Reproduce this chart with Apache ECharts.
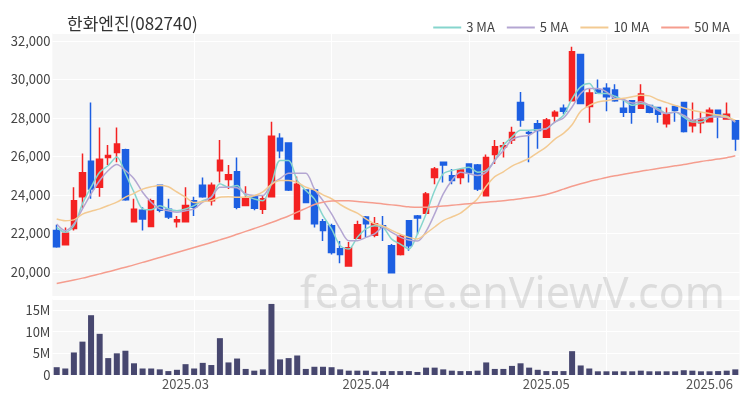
<!DOCTYPE html>
<html><head><meta charset="utf-8">
<script src="https://cdn.jsdelivr.net/npm/echarts/dist/echarts.min.js"></script>
<style>html,body{margin:0;padding:0;background:#fff}#c{width:750px;height:400px}</style>
</head><body><div id="c"></div>
<script>
const dates = ['2025.02.10','2025.02.11','2025.02.12','2025.02.13','2025.02.14','2025.02.17','2025.02.18','2025.02.19','2025.02.20','2025.02.21','2025.02.24','2025.02.25','2025.02.26','2025.02.27','2025.02.28',
'2025.03.04','2025.03.05','2025.03.06','2025.03.07','2025.03.10','2025.03.11','2025.03.12','2025.03.13','2025.03.14','2025.03.17','2025.03.18','2025.03.19','2025.03.20','2025.03.21','2025.03.24','2025.03.25','2025.03.26','2025.03.27','2025.03.28','2025.03.31',
'2025.04.01','2025.04.02','2025.04.03','2025.04.04','2025.04.07','2025.04.08','2025.04.09','2025.04.10','2025.04.11','2025.04.14','2025.04.15','2025.04.16','2025.04.17','2025.04.18','2025.04.21','2025.04.22','2025.04.23','2025.04.24','2025.04.25','2025.04.28','2025.04.29','2025.04.30',
'2025.05.02','2025.05.07','2025.05.08','2025.05.09','2025.05.12','2025.05.13','2025.05.14','2025.05.15','2025.05.16','2025.05.19','2025.05.20','2025.05.21','2025.05.22','2025.05.23','2025.05.26','2025.05.27','2025.05.28','2025.05.29','2025.05.30',
'2025.06.02','2025.06.04','2025.06.05','2025.06.09'];

const openP = [22150,21400,22250,23900,25750,24400,25950,26200,26350,22600,23200,22350,24500,23250,22600,22600,23700,24500,23700,25250,24800,25200,23450,23900,23250,23900,26950,26700,22750,24250,24250,22600,22400,21200,20300,21750,22850,21900,22400,21350,20900,22650,22900,23050,24900,25700,25000,24900,25600,25550,23950,26100,26500,26850,28800,27250,27700,27000,28100,28500,28900,31300,28600,29450,29550,29450,28500,28900,28500,28650,28550,27700,28600,28800,27600,27750,27800,28400,27950,27850];
const closeP = [21300,22000,23700,25150,24300,25850,26050,26650,23750,23250,22750,23700,23200,22850,22700,23450,23350,23900,24500,25800,25050,23350,23800,23300,23800,27050,26300,24250,24550,23600,22500,22150,21000,20900,21250,22450,22500,22500,22300,19950,21850,21350,22800,24050,25350,25550,24750,25300,25150,24300,25950,26500,26550,27250,27900,27200,27350,27900,28300,28350,31450,28750,29300,29300,29100,28900,28300,28300,29250,28300,28200,28200,28400,27300,27850,27900,28400,28100,28200,26900];
const lowP = [21250,21400,22150,23300,23800,23900,25550,25700,23700,22600,22150,22350,23100,22750,22300,22600,22900,23850,23450,24650,24300,23250,23450,23200,23000,23900,25900,24200,22750,23600,22300,21600,20900,20450,20300,21750,21800,21800,21600,19950,20850,21100,21950,23000,24550,24650,24550,24550,24650,24200,23950,25600,25950,26650,27550,25700,26400,27000,27750,28200,28900,28750,27750,29250,28350,28850,28050,27700,28500,28250,27750,27500,27800,27250,27250,27200,27800,26950,27950,26300];
const highP = [22450,22300,24400,26150,28800,27500,26600,27500,26400,23800,23350,23800,24500,23800,22900,24400,23900,24900,24650,26850,25550,25950,24450,23950,23950,27800,27200,26700,24950,24250,24250,22750,22500,21600,21550,22650,22900,22850,22900,21450,21950,22650,22950,24150,25450,25700,25350,25400,25600,25600,26100,26850,26750,27550,29350,27350,27900,28000,28400,28700,31700,31300,29550,30000,29800,29750,28900,28900,29750,28650,28550,28550,28600,28800,28800,28300,28550,28400,28800,27900];

const volume = [1.8,1.5,5.2,7.7,13.8,9.5,3.9,5.0,5.6,2.7,1.5,1.5,1.3,0.9,1.2,2.5,1.5,2.8,2.3,8.5,2.9,3.8,1.4,1.0,1.3,16.4,3.6,3.9,4.5,1.4,1.9,1.9,1.8,1.3,1.0,1.0,1.0,0.8,0.9,0.9,0.9,0.9,0.7,1.7,1.7,1.3,1.0,0.9,0.9,1.0,2.9,1.4,1.4,2.1,2.7,1.7,1.2,0.9,0.9,0.9,5.5,2.2,1.5,0.85,0.85,0.85,0.85,0.85,1.0,0.85,0.85,0.85,0.85,1.1,1.0,0.85,0.85,0.9,1.0,1.3].map(v => v * 1e6);

const ma3 = [22310,22050,22400,23530,24400,25180,25530,25970,25100,24140,23270,23220,23440,23270,23180,23270,23440,23700,23880,24580,24400,24490,23970,23790,23700,24570,25790,25790,24750,24230,23790,22920,22230,21360,21180,21790,22230,22400,22310,21700,21440,21180,21970,23010,24230,25100,25270,25360,25440,25180,25270,25790,26570,27010,27360,27360,27390,27440,27790,28140,29010,29620,29790,29270,29270,29130,28920,28660,28750,28660,28490,28230,28310,28050,27790,27790,28050,28140,28090,27790];
const ma5 = [22490,22140,22490,23270,24050,24750,25270,25580,25270,24840,24140,23620,23270,23180,23100,23180,23270,23620,23880,24400,24400,24370,24050,23970,23970,24570,24840,25130,25130,25130,24310,23700,23010,22230,21620,21620,21790,21970,22310,22050,21800,21650,21600,22100,23010,24050,24750,25180,25100,25010,25180,25790,26310,26870,27040,27100,27360,27440,27790,28000,28570,29270,29530,29530,29360,29010,28960,28780,28840,28660,28400,28230,28310,28140,27880,27970,28050,28050,28020,27790];
const ma10 = [22750,22660,22700,23000,23150,23270,23450,23620,23880,24080,24300,24420,24490,24420,24150,23880,23600,23650,23700,23880,23900,23880,23880,23950,24150,24550,24750,24750,24650,24400,24250,24000,23800,23500,23250,23050,22750,22500,22380,22150,21950,21790,21710,22000,22330,22660,22850,23050,23400,23800,24450,24950,25200,25500,25700,25900,26200,26500,26900,27200,27650,28350,28650,28830,28900,28980,29020,29100,29180,29150,28950,28800,28650,28520,28400,28310,28230,28150,28050,27880];
const ma50 = [19390,19480,19570,19670,19780,19890,20000,20120,20240,20360,20490,20610,20740,20870,21000,21130,21260,21390,21520,21660,21800,21950,22100,22250,22400,22560,22730,22900,23100,23300,23500,23620,23680,23700,23690,23660,23620,23580,23530,23480,23430,23380,23350,23350,23380,23420,23460,23500,23540,23580,23620,23660,23700,23750,23800,23860,23930,24020,24150,24300,24450,24580,24700,24800,24900,24990,25070,25150,25230,25300,25370,25440,25510,25580,25660,25740,25800,25860,25930,26030];

const xTickIndex = [15, 36, 57, 76];
const xTickLabels = ['2025.03', '2025.04', '2025.05', '2025.06'];
const maNames = ['3 MA', '5 MA', '10 MA', '50 MA'];

const UP = '#f42222', DOWN = '#1d5fe2';
const MA_COLORS = ['#86d5cd', '#b4a6d2', '#f3ca92', '#f59d8e'];
const FONT = "'Noto Sans CJK KR','Noto Sans',sans-serif";
const BG = '#f6f6f6';

const candleData = dates.map((d, i) => [openP[i], closeP[i], lowP[i], highP[i]]);
const chart = echarts.init(document.getElementById('c'), null, {renderer: 'canvas'});

const vSplit = {show: true, alignWithLabel: true, interval: (i) => i > 0 && i % 16 === 0, lineStyle: {color: '#ffffff', width: 1}};

const maSeries = [ma3, ma5, ma10, ma50].map((arr, k) => ({
  type: 'line', name: maNames[k], xAxisIndex: 0, yAxisIndex: 0, data: arr,
  symbol: 'none', showSymbol: false, smooth: 0.3,
  lineStyle: {width: 1.5, color: MA_COLORS[k]}, itemStyle: {color: MA_COLORS[k]}, z: 3
}));

chart.setOption({
  animation: false,
  textStyle: {fontFamily: FONT},
  title: {text: '한화엔진(082740)', left: 62, top: 10,
    textStyle: {fontSize: 17, fontWeight: 'normal', color: '#333', fontFamily: FONT}},
  legend: {right: 15, top: 16, itemWidth: 28, itemHeight: 2, itemGap: 12, icon: 'rect',
    data: maNames, textStyle: {fontSize: 13, color: '#444', fontFamily: FONT}},
  graphic: [{type: 'text', left: 300, top: 274, z: 1, silent: true,
    style: {text: 'feature.enViewV.com', font: "43px 'Noto Sans'", fill: 'rgba(150,150,150,0.27)'}}],
  grid: [
    {left: 52.4, right: 10.4, top: 33, height: 263, show: true, backgroundColor: BG, borderWidth: 0},
    {left: 52.4, right: 10.4, top: 299, height: 76, show: true, backgroundColor: BG, borderWidth: 0}
  ],
  xAxis: [
    {type: 'category', gridIndex: 0, data: dates, boundaryGap: true,
      axisLine: {show: false}, axisTick: {show: false}, axisLabel: {show: false}, splitLine: vSplit},
    {type: 'category', gridIndex: 1, data: dates, boundaryGap: true,
      axisLine: {show: false}, axisTick: {show: false}, splitLine: vSplit,
      axisLabel: {show: true, interval: (i) => xTickIndex.indexOf(i) >= 0,
        formatter: (v, i) => xTickLabels[xTickIndex.indexOf(i)] || '',
        color: '#555', fontSize: 13, margin: 3, fontFamily: FONT}}
  ],
  yAxis: [
    {type: 'value', gridIndex: 0, min: 18740, max: 32420, minInterval: 2000, maxInterval: 2000, scale: true,
      axisLine: {show: false}, axisTick: {show: false},
      axisLabel: {showMinLabel: false, showMaxLabel: false, color: '#444', fontSize: 13, margin: 2, fontFamily: FONT,
        formatter: (v) => Math.round(v).toLocaleString('en-US')},
      splitLine: {lineStyle: {color: '#ffffff', width: 1}}},
    {type: 'value', gridIndex: 1, min: 0, max: 17540000, interval: 5000000,
      axisLine: {show: false}, axisTick: {show: false},
      axisLabel: {showMaxLabel: false, color: '#444', fontSize: 13, margin: 2, fontFamily: FONT,
        formatter: (v) => v === 0 ? '0' : (v / 1e6) + 'M'},
      splitLine: {lineStyle: {color: '#ffffff', width: 1}}}
  ],
  series: [
    {type: 'candlestick', name: 'price', xAxisIndex: 0, yAxisIndex: 0, data: candleData, barWidth: '70%', z: 2,
      itemStyle: {color: UP, color0: DOWN, borderColor: UP, borderColor0: DOWN, borderWidth: 1.5}},
    ...maSeries,
    {type: 'bar', name: 'volume', xAxisIndex: 1, yAxisIndex: 1, data: volume, barWidth: '70%',
      itemStyle: {color: '#47476f'}}
  ]
});
</script></body></html>
